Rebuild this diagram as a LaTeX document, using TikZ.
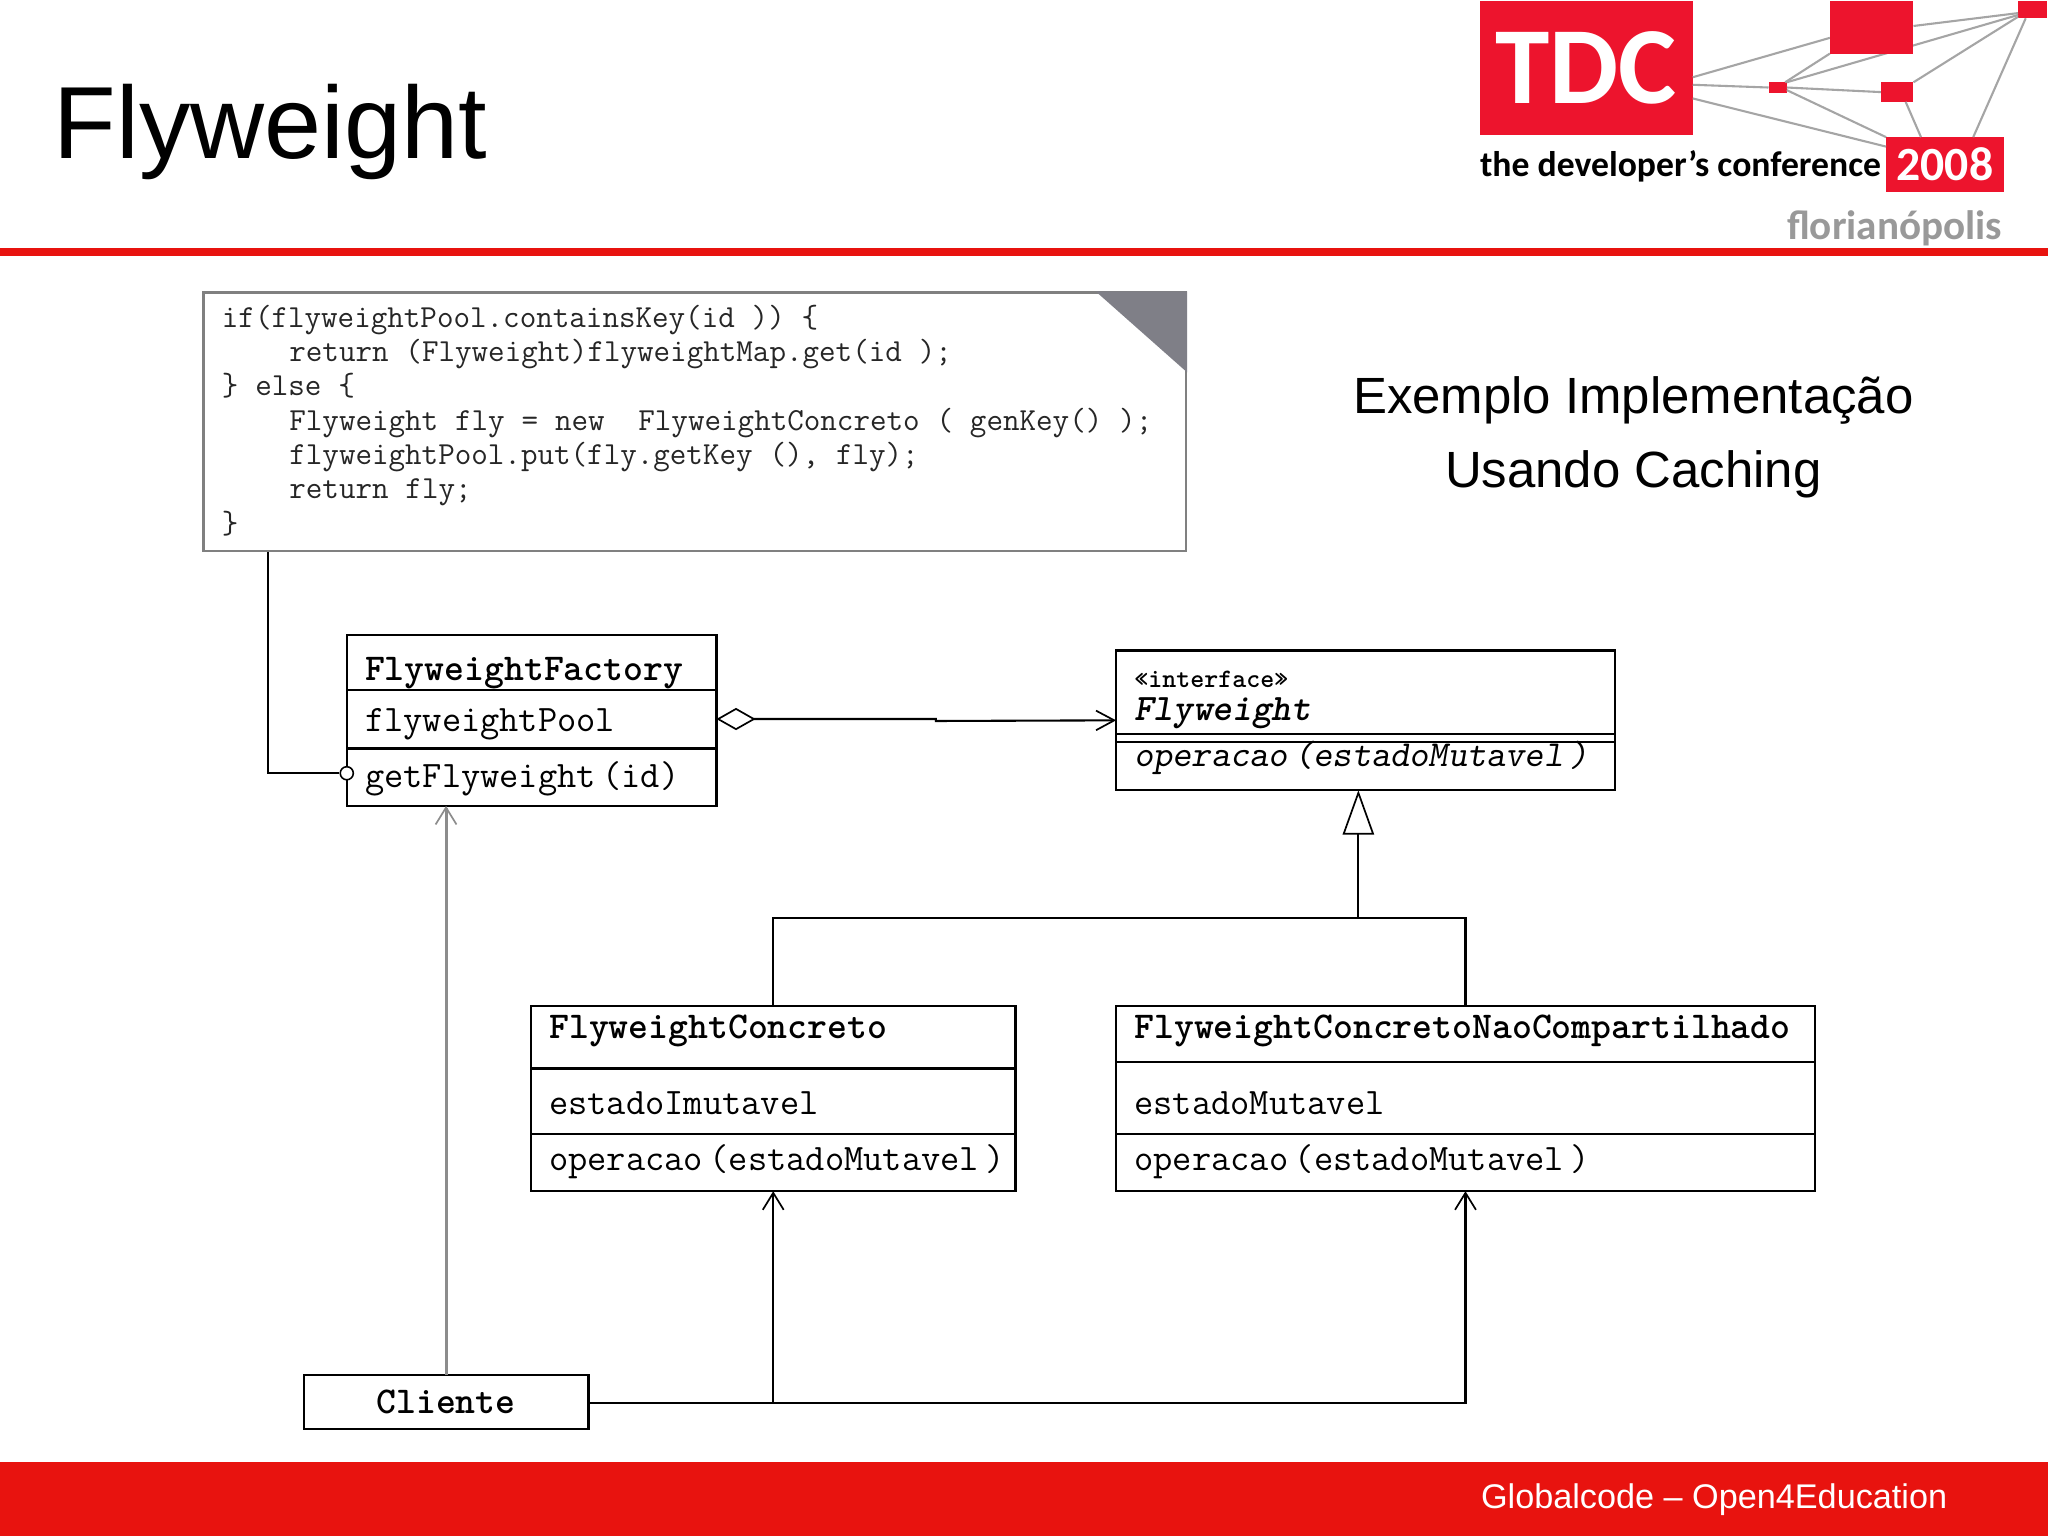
\documentclass[tikz,border=0pt]{standalone}
\usepackage{fontspec}
\usepackage{tikz}
\usetikzlibrary{positioning, calc, arrows.meta}
\setmainfont{Liberation Sans}
\newfontfamily\logofont{Carlito}
\definecolor{tdcred}{RGB}{237,20,45}
\definecolor{barred}{RGB}{232,19,15}
\definecolor{netgray}{RGB}{165,165,165}
\definecolor{foldgray}{RGB}{127,127,135}
\newcommand{\umlfont}{\ttfamily\fontsize{28.6}{30}\selectfont}
\newcommand{\umlnamefont}{\ttfamily\bfseries\fontsize{29}{30}\selectfont}
\newcommand{\codefont}{\ttfamily\fontsize{24.6}{26.3}\selectfont}
\tikzset{
	umlcell/.style n args={3}{draw=black, line width=1.7pt, outer sep=0pt, inner xsep=14pt, inner ysep=0pt,
		text width=#1pt, text height=#2pt, text depth=#3pt, align=left, font=\umlfont,
		execute at begin node={\spaceskip=5pt\relax}},
	logobox/.style n args={2}{fill=tdcred, text=white, inner sep=0pt, outer sep=0pt, minimum width=#1pt, minimum height=#2pt},
	netline/.style={draw=netgray, line width=1.6pt},
	umlline/.style={draw=black, line width=1.6pt},
	opentip/.style={-{Straight Barb[length=13pt,width=16pt,line width=1.3pt]}},
}

\begin{document}
\begin{tikzpicture}[x=1pt, y=-1pt]
	\useasboundingbox (0,0) rectangle (1568,1176);
	\fill[white] (0,0) rectangle (1568,1176);

	\fill[barred] (0,190) rectangle (1568,196);
	\fill[barred] (0,1119) rectangle (1568,1176);
	\node[anchor=base west, inner sep=0pt, font=\fontsize{78.5}{80}\selectfont] (title) at (41,121.5) {Flyweight};
	\node[anchor=base east, inner sep=0pt, text=white, font=\fontsize{26.2}{28}\selectfont] (footer) at (1491,1155) {Globalcode -- Open4Education};
	\node[align=center, inner sep=0pt, font=\fontsize{39}{57}\selectfont] (subtitle) at (1250.5,335) {Exemplo Implementação\\Usando Caching};

	% logo
	\node[logobox={163}{102}, font=\logofont\bfseries\fontsize{84}{84}\selectfont] (tdc) at (1214.5,52) {TDC};
	\node[logobox={64}{40}] (big) at (1433,21) {};
	\node[logobox={22}{13}] (corner) at (1556,7.5) {};
	\node[logobox={14}{8}] (small) at (1361,67) {};
	\node[logobox={25}{15}] (med) at (1452.5,70.5) {};
	\node[logobox={90}{42}, font=\logofont\bfseries\fontsize{36.5}{37}\selectfont] (year) at (1489,126) {2008};
	\node[anchor=base west, inner sep=0pt, font=\logofont\bfseries\fontsize{27.3}{28}\selectfont] (dev) at (1133,135) {the developer’s conference};
	\node[anchor=base east, inner sep=0pt, text=black!40, font=\logofont\bfseries\fontsize{31.5}{32}\selectfont] (city) at (1533,183) {florianópolis};
	\draw[netline] (tdc.-5) -- (big.194);
	\draw[netline] (big.2) -- (corner.193);
	\draw[netline] (small.30) -- (corner.200);
	\draw[netline] (small.35) -- (big.south west);
	\draw[netline] (tdc.-9) -- (small.west);
	\draw[netline] (small.east) -- (med.west);
	\draw[netline] (tdc.-16) -- (year.163);
	\draw[netline] (small.-16) -- (year.north west);
	\draw[netline] (med.-49) -- (year.131);
	\draw[netline] (corner.206) -- (med.north east);
	\draw[netline] (corner.232) -- (year.44);
	\node[logobox={64}{40}] (bigtop) at (big) {};

	% note
	\node[draw=black!50, line width=1.8pt, anchor=north west, minimum width=752pt, minimum height=198pt,
		inner xsep=14pt, inner ysep=8pt, text width=724pt, text height=15pt, align=left, text=black!85, font=\codefont,
		execute at begin node={\spaceskip=12.91pt\relax}] (code) at (155,223) {%
		if(flyweightPool.containsKey(id )) \{\\
		\ \ \ \ return (Flyweight)flyweightMap.get(id );\\
		\} else \{\\
		\ \ \ \ Flyweight fly = new \ FlyweightConcreto ( genKey() );\\
		\ \ \ \ flyweightPool.put(fly.getKey (), fly);\\
		\ \ \ \ return fly;\\
		\}};
	\fill[foldgray] (code.north east) -- ++(-70,0) -- ++(70,62) -- cycle;

	% factory
	\node[umlcell={255}{35}{7}, anchor=north west, font=\umlnamefont] (factoryname) at (265.5,486) {FlyweightFactory};
	\node[umlcell={255}{32}{13}, below=0pt of factoryname] (factorypool) {flyweightPool};
	\node[umlcell={255}{30}{14}, below=0pt of factorypool] (factoryop) {getFlyweight (id)};
	\node[circle, draw=black, fill=white, line width=1.2pt, inner sep=0pt, minimum size=10pt] (port) at ($(factoryop.west)+(0,-3)$) {};

	% interface
	\node[umlcell={354}{28}{36}, anchor=north west, font=\ttfamily\bfseries\slshape\fontsize{28.6}{26}\selectfont] (flyname) at (854.5,498)
		{{\upshape\fontsize{20.4}{26}\selectfont «interface»}\\Flyweight};
	\node[umlcell={354}{6}{0}, below=0pt of flyname] (flygap) {};
	\node[umlcell={354}{19}{18}, below=0pt of flygap, font=\ttfamily\slshape\fontsize{28}{30}\selectfont] (flyop) {\mbox{operacao (estadoMutavel )}};

	% concrete classes
	\node[umlcell={343}{25}{23}, anchor=north west, font=\umlnamefont] (concname) at (406.5,770) {FlyweightConcreto};
	\node[umlcell={343}{35}{15}, below=0pt of concname] (concattr) {estadoImutavel};
	\node[umlcell={343}{28}{16}, below=0pt of concattr] (concop) {\mbox{operacao (estadoMutavel )}};

	\node[umlcell={507}{25}{18}, anchor=north west, font=\umlnamefont] (naoname) at (854.5,770) {FlyweightConcretoNaoCompartilhado};
	\node[umlcell={507}{40}{15}, below=0pt of naoname] (naoattr) {estadoMutavel};
	\node[umlcell={507}{28}{16}, below=0pt of naoattr] (naoop) {\mbox{operacao (estadoMutavel )}};

	\node[umlcell={190}{29}{12}, anchor=north west, align=center, font=\umlnamefont] (cliente) at (232.5,1053) {Cliente};

	% connectors
	\coordinate (noteleg) at ($(code.south west)+(50,0)$);
	\draw[umlline] (noteleg) |- (port);
	\coordinate (flyin) at (854.5,551.5);
	\draw[umlline, {Diamond[open,length=30pt,width=17pt,line width=1.3pt]}-{Straight Barb[length=14pt,width=15pt,line width=1.3pt]}]
		(factorypool.east) -- ++(168,0) -- ++(0,1.5) -- (flyin);
	\coordinate (gen) at (1040,703);
	\draw[umlline, -{Triangle[open,length=34pt,width=24pt,line width=1.3pt]}] (gen) -- (gen |- flyop.south);
	\draw[umlline] (concname.north) |- (gen);
	\draw[umlline] (naoname.north) |- (gen);
	\draw[draw=black!45, line width=2.3pt, opentip] (cliente.north) -- (cliente.north |- factoryop.south);
	\coordinate (clientout) at ($(cliente.east)+(0,1)$);
	\draw[umlline, opentip] (clientout) -| (concop.south);
	\draw[umlline, opentip] (clientout) -| (naoop.south);
\end{tikzpicture}
\end{document}
